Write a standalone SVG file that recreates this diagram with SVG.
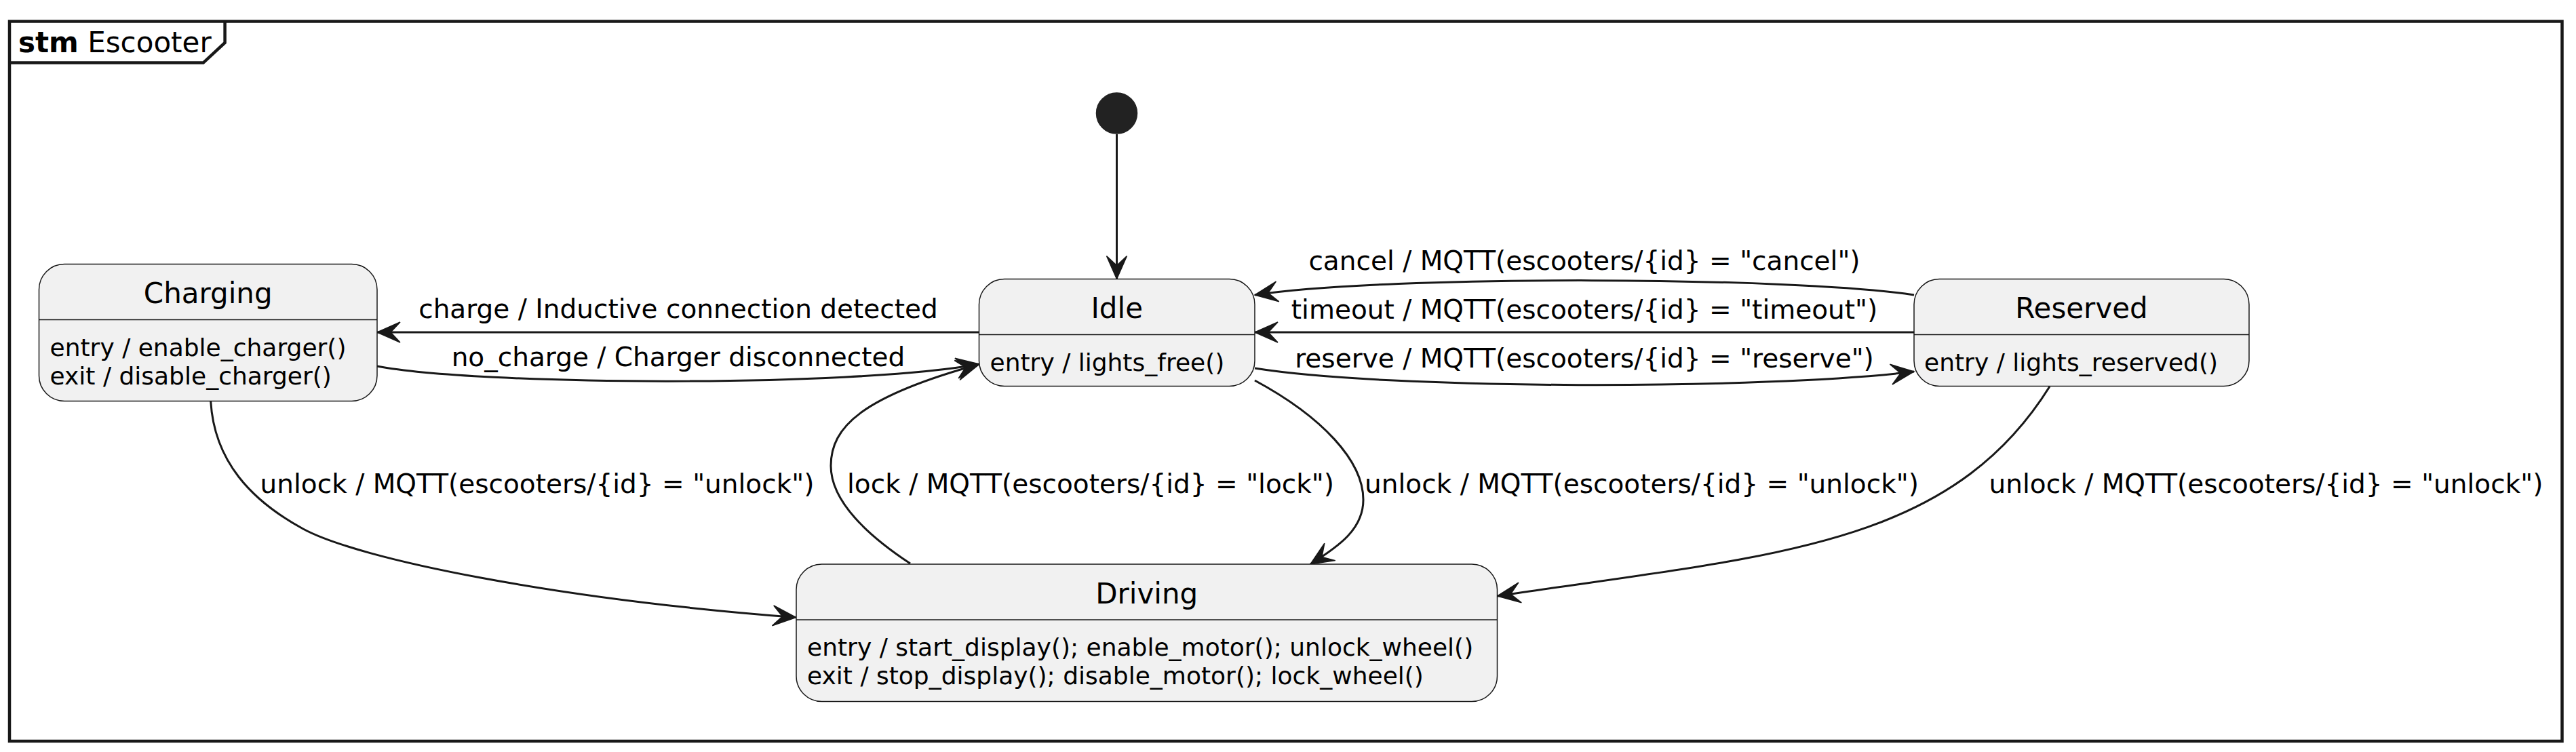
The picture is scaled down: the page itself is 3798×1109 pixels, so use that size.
<svg xmlns="http://www.w3.org/2000/svg" width="3798" height="1109" viewBox="0 0 3798 1109">
<style>
.state{fill:#F1F1F1;stroke:#181818;stroke-width:1.5}
.div{stroke:#181818;stroke-width:1.5}
.title{font-family:"DejaVu Sans",sans-serif;font-size:42px;fill:#000;text-anchor:middle}
.attr{font-family:"DejaVu Sans",sans-serif;font-size:36px;fill:#000}
.lbl{font-family:"DejaVu Sans",sans-serif;font-size:39px;fill:#000;text-anchor:middle}
.edge{fill:none;stroke:#181818;stroke-width:3;marker-end:url(#ah)}
.frame{fill:none;stroke:#181818;stroke-width:4.5}
</style>
<defs>
<marker id="ah" markerUnits="userSpaceOnUse" viewBox="-40 -20 44 40" markerWidth="44" markerHeight="40" refX="0" refY="0" orient="auto">
<path d="M0,0 L-34,-15 L-20,0 L-34,15 Z" fill="#181818" stroke="#181818" stroke-width="1.5"/>
</marker>
</defs>
<rect x="0" y="0" width="3798" height="1109" fill="#FFFFFF"/>
<g id="frame">
<rect class="frame" x="14" y="31.5" width="3763.5" height="1061.5"/>
<path class="frame" d="M14,92.6 L299.7,92.6 L331.6,63 L331.6,31.5"/>
<text x="27" y="76.5" font-family="DejaVu Sans, sans-serif" font-size="42" fill="#000"><tspan font-weight="bold">stm</tspan> Escooter</text>
</g>
<g id="connectors">
<g id="e-init">
<circle cx="1646.5" cy="167" r="30" fill="#222222" stroke="#222222" stroke-width="1.5"/>
<path class="edge" d="M1646.5,198 L1646.5,411.5"/>
</g>
<g id="e-charge">
<path class="edge" d="M1443.5,490 L556,490"/>
<text class="lbl" x="1000" y="469">charge / Inductive connection detected</text>
</g>
<g id="e-nocharge">
<path class="edge" d="M556,540 C700,568 1250,572 1444,537"/>
<text class="lbl" x="1000" y="540">no_charge / Charger disconnected</text>
</g>
<g id="e-cancel">
<path class="edge" d="M2822,435 C2650,408 2050,405 1850,435"/>
<text class="lbl" x="2336" y="398">cancel / MQTT(escooters/{id} = "cancel")</text>
</g>
<g id="e-timeout">
<path class="edge" d="M2822,490 L1850,490"/>
<text class="lbl" x="2336" y="470">timeout / MQTT(escooters/{id} = "timeout")</text>
</g>
<g id="e-reserve">
<path class="edge" d="M1850,543 C2050,575 2600,575 2822,548"/>
<text class="lbl" x="2336" y="541.5">reserve / MQTT(escooters/{id} = "reserve")</text>
</g>
<g id="e-charging-driving">
<path class="edge" d="M310.7,592 C316,680 370,738 447,780 C530,825 820,883.5 1173.5,910.5"/>
<text class="lbl" x="792" y="727">unlock / MQTT(escooters/{id} = "unlock")</text>
</g>
<g id="e-lock">
<path class="edge" d="M1342,831 C1280,790 1225,740 1225,687 C1225,630 1270,585 1444,537"/>
<text class="lbl" x="1608" y="727">lock / MQTT(escooters/{id} = "lock")</text>
</g>
<g id="e-idle-driving">
<path class="edge" d="M1850,561 C1950,615 2010,680 2010,737 C2010,780 1975,805 1932,832"/>
<text class="lbl" x="2420.5" y="727">unlock / MQTT(escooters/{id} = "unlock")</text>
</g>
<g id="e-reserved-driving">
<path class="edge" d="M3022,570 C2872,810 2607,819 2207.5,879"/>
<text class="lbl" x="3341" y="727">unlock / MQTT(escooters/{id} = "unlock")</text>
</g>
</g>
<g id="Charging">
<rect class="state" x="57.5" y="389.5" width="498.5" height="202" rx="37.5" ry="37.5"/>
<line class="div" x1="57.5" y1="471.5" x2="556" y2="471.5"/>
<text class="title" x="306.75" y="447">Charging</text>
<text class="attr" x="73.5" y="524.5">entry / enable_charger()</text>
<text class="attr" x="73.5" y="566.5">exit / disable_charger()</text>
</g>
<g id="Idle">
<rect class="state" x="1443.5" y="411.5" width="406.5" height="158" rx="37.5" ry="37.5"/>
<line class="div" x1="1443.5" y1="493.5" x2="1850" y2="493.5"/>
<text class="title" x="1646.75" y="469">Idle</text>
<text class="attr" x="1459.5" y="547">entry / lights_free()</text>
</g>
<g id="Reserved">
<rect class="state" x="2822" y="411.5" width="494" height="158" rx="37.5" ry="37.5"/>
<line class="div" x1="2822" y1="493.5" x2="3316" y2="493.5"/>
<text class="title" x="3069" y="469">Reserved</text>
<text class="attr" x="2837" y="547">entry / lights_reserved()</text>
</g>
<g id="Driving">
<rect class="state" x="1174" y="832" width="1033.5" height="202.5" rx="37.5" ry="37.5"/>
<line class="div" x1="1174" y1="914" x2="2207.5" y2="914"/>
<text class="title" x="1690.75" y="889.5">Driving</text>
<text class="attr" x="1190" y="967">entry / start_display(); enable_motor(); unlock_wheel()</text>
<text class="attr" x="1190" y="1009">exit / stop_display(); disable_motor(); lock_wheel()</text>
</g>
</svg>
